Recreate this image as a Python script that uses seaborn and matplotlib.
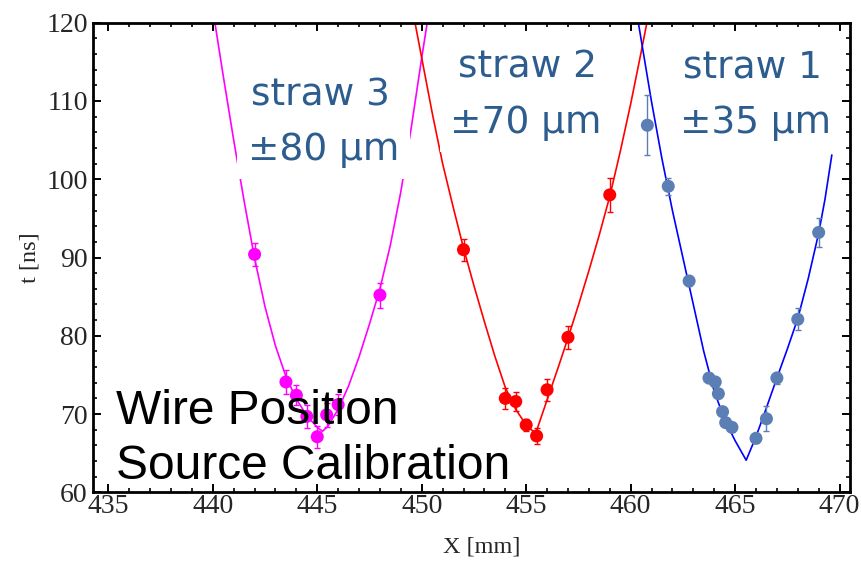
import matplotlib
matplotlib.use("Agg")
import numpy as np
import pandas as pd
import seaborn as sns
import matplotlib.pyplot as plt
from matplotlib.ticker import MultipleLocator

# ---- measured drift times (t in ns) vs source position X (mm) ----
straw3_x = [442.0, 443.5, 444.0, 444.5, 445.0, 445.45, 446.0, 448.0]
straw3_t = [90.4, 74.1, 72.4, 69.7, 67.1, 69.9, 71.2, 85.2]
straw3_err = [1.5, 1.5, 1.3, 1.5, 1.4, 1.5, 1.3, 1.6]

straw2_x = [452.0, 454.0, 454.5, 455.0, 455.5, 456.0, 457.0, 459.0]
straw2_t = [91.0, 72.0, 71.6, 68.6, 67.2, 73.1, 79.8, 98.0]
straw2_err = [1.4, 1.3, 1.2, 0.8, 1.0, 1.4, 1.45, 2.15]

straw1_x = [460.8, 461.8, 462.8, 463.75, 464.05, 464.2, 464.4, 464.55, 464.85,
            466.0, 466.5, 467.0, 468.0, 469.0]
straw1_t = [106.9, 99.1, 87.0, 74.6, 74.1, 72.6, 70.3, 68.9, 68.3,
            66.9, 69.4, 74.6, 82.1, 93.2]
straw1_err = [3.8, 1.1, 0.6, 0.6, 0.6, 0.6, 0.6, 0.6, 0.6,
              0.6, 1.6, 0.8, 1.4, 1.9]

# ---- fitted calibration curves ----
fit3_x = [440.0, 440.5, 441.0, 441.5, 442.0, 442.5, 443.0, 443.5, 444.0, 444.5,
          445.0, 445.25, 445.5, 446.0, 446.5, 447.0, 447.5, 448.0, 448.5, 449.0,
          449.5, 450.0, 450.35]
fit3_t = [121.7, 113.2, 105.0, 97.2, 89.9, 83.7, 78.7, 74.8, 71.9, 69.8,
          68.3, 67.8, 68.4, 70.6, 73.6, 77.3, 81.5, 86.0, 91.6, 98.4,
          106.6, 115.5, 121.5]

fit2_x = [449.5, 450.0, 450.5, 451.0, 451.5, 452.0, 452.5, 453.0, 453.5, 454.0,
          454.5, 455.0, 455.45, 456.0, 456.5, 457.0, 457.5, 458.0, 458.5, 459.0,
          459.5, 460.0, 460.5, 460.85]
fit2_t = [122.5, 115.5, 108.5, 102.0, 96.5, 91.2, 86.4, 81.8, 77.4, 73.4,
          70.6, 68.6, 67.5, 71.8, 75.7, 79.7, 83.9, 88.3, 92.9, 97.8,
          103.5, 109.6, 116.2, 121.0]

fit1_x = [460.35, 460.5, 461.0, 461.5, 462.0, 462.5, 463.0, 463.5, 464.0, 464.5,
          465.0, 465.53, 466.0, 466.5, 467.0, 467.5, 468.0, 468.5, 469.0, 469.3,
          469.63]
fit1_t = [120.3, 117.9, 109.9, 102.6, 96.0, 90.0, 84.0, 78.0, 72.9, 69.3,
          66.6, 64.1, 67.1, 70.8, 74.6, 78.3, 82.2, 87.3, 93.1, 97.4,
          103.1]

straw_names = ["straw 3", "straw 2", "straw 1"]
resolutions = ["±80 µm", "±70 µm", "±35 µm"]

point_colors = {"straw 3": "#ff00ff", "straw 2": "#ff0000", "straw 1": "#5b7fb4"}
line_colors = {"straw 3": "#ff00ff", "straw 2": "#ff0000", "straw 1": "#0000ff"}

points = pd.concat([
    pd.DataFrame({"x": straw3_x, "t": straw3_t, "err": straw3_err, "straw": "straw 3"}),
    pd.DataFrame({"x": straw2_x, "t": straw2_t, "err": straw2_err, "straw": "straw 2"}),
    pd.DataFrame({"x": straw1_x, "t": straw1_t, "err": straw1_err, "straw": "straw 1"}),
], ignore_index=True)

fits = pd.concat([
    pd.DataFrame({"x": fit3_x, "t": fit3_t, "straw": "straw 3"}),
    pd.DataFrame({"x": fit2_x, "t": fit2_t, "straw": "straw 2"}),
    pd.DataFrame({"x": fit1_x, "t": fit1_t, "straw": "straw 1"}),
], ignore_index=True)

sns.set_theme(style="ticks")
plt.rcParams["font.family"] = ["Liberation Serif", "DejaVu Serif"]

W, H = 862, 562
fig = plt.figure(figsize=(W / 100, H / 100), dpi=100)
ax = fig.add_axes([93.3 / W, 1 - 492.3 / H, (850 - 93.3) / W, (492.3 - 22.7) / H])

sns.lineplot(data=fits, x="x", y="t", hue="straw", palette=line_colors,
             sort=False, estimator=None, legend=False, linewidth=1.2,
             ax=ax, zorder=2)

for name in straw_names:
    sub = points[points["straw"] == name]
    ax.errorbar(sub["x"], sub["t"], yerr=sub["err"], fmt="none",
                ecolor=point_colors[name], elinewidth=1.0, capsize=2.5,
                capthick=1.0, zorder=3)

sns.scatterplot(data=points, x="x", y="t", hue="straw", palette=point_colors,
                s=88, linewidth=0, legend=False, ax=ax, zorder=4)

ax.set_xlim(434.28, 470.5)
ax.set_ylim(60, 120)
ax.xaxis.set_major_locator(MultipleLocator(5))
ax.xaxis.set_minor_locator(MultipleLocator(1))
ax.yaxis.set_major_locator(MultipleLocator(10))
ax.yaxis.set_minor_locator(MultipleLocator(2))

for sp in ax.spines.values():
    sp.set_visible(True)
    sp.set_linewidth(2.0)
    sp.set_color("black")

ax.tick_params(which="both", direction="in", top=True, right=True, color="black")
ax.tick_params(which="major", length=6, width=1.4, labelsize=20, pad=4)
ax.tick_params(which="minor", length=3.2, width=1.2)
ax.tick_params(axis="x", which="major", pad=1)

ax.set_xlabel("X [mm]", fontsize=17.5)
ax.set_ylabel("t [ns]", fontsize=17.5, labelpad=4)
ax.xaxis.label.set_verticalalignment("center")
ax.xaxis.set_label_coords(0.513, -(547 - 492.3) / (492.3 - 22.7))

# straw labels with white boxes over the curves
label_color = "#2d5d8f"
label_pos = {
    "straw 3": ((251, 105), (248, 160)),
    "straw 2": ((458, 78), (450, 133)),
    "straw 1": ((683, 78), (680, 133)),
}
for name, res in zip(straw_names, resolutions):
    (x1, y1), (x2, y2) = label_pos[name]
    for txt, (px, py) in ((name, (x1, y1)), (res, (x2, y2))):
        fig.text(px / W, 1 - py / H, txt, family=["DejaVu Sans"], fontsize=27,
                 color=label_color, ha="left", va="baseline", zorder=10,
                 bbox=dict(boxstyle="square,pad=0.28", fc="white", ec="none"))

fig.text(116 / W, 1 - 424 / H, "Wire Position", family=["Liberation Sans"],
         fontsize=34.5, color="black", ha="left", va="baseline", zorder=12)
fig.text(116 / W, 1 - 479 / H, "Source Calibration", family=["Liberation Sans"],
         fontsize=34.5, color="black", ha="left", va="baseline", zorder=12)

fig.savefig("out.png", dpi=100)
